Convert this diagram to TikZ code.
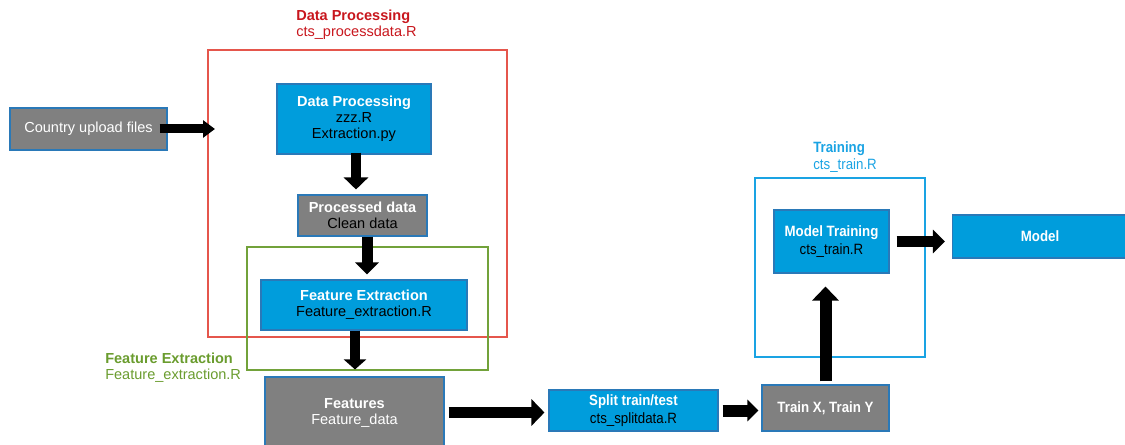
\documentclass[tikz,border=0pt]{standalone}
\usepackage{fontspec}
\setmainfont{Liberation Sans}
\newfontfamily\narrowfont[FakeStretch=0.89]{Liberation Sans}
\usetikzlibrary{arrows.meta}
\definecolor{boxblue}{HTML}{009DDC}
\definecolor{boxgray}{HTML}{808080}
\definecolor{edgeblue}{HTML}{2A79B8}
\definecolor{redframe}{HTML}{E5564C}
\definecolor{redtext}{HTML}{C8161D}
\definecolor{greenframe}{HTML}{72A23A}
\definecolor{greentext}{HTML}{6A9C2E}
\definecolor{trainblue}{HTML}{1AA3E3}
\tikzset{
  base/.style={draw=edgeblue, line width=0.8pt, align=center, inner sep=0pt,
    font=\fontsize{10.9}{12}\selectfont},
  bluebox/.style={base, fill=boxblue},
  graybox/.style={base, fill=boxgray},
  narrow/.style={font=\narrowfont\fontsize{11.2}{13}\selectfont},
  frame/.style={line width=1.1pt},
  barrow/.style n args={3}{line width=#1, -{Triangle[width=#2,length=#3]}},
  lbl/.style={anchor=west, align=left, inner sep=0pt, font=\fontsize{10.9}{12}\selectfont},
}
\newcommand{\ttl}[1]{\textcolor{white}{\bfseries #1}}
\begin{document}
\begin{tikzpicture}[x=0.75pt,y=-0.75pt]
\useasboundingbox (0,0) rectangle (1125,445);
% frames
\draw[frame, draw=redframe] (208,50) rectangle (507,337);
\draw[frame, draw=greenframe] (247,247) rectangle (488,370);
\draw[frame, draw=trainblue] (755,178) rectangle (925,357);
% frame labels
\node[lbl, text=redtext] (redlbl) at (296,25) {\textbf{Data Processing}\\cts\_processdata.R};
\node[lbl, text=greentext] (greenlbl) at (105,368) {\textbf{Feature Extraction}\\Feature\_extraction.R};
\node[lbl, narrow, text=trainblue] (trainlbl) at (813,157) {\textbf{Training}\\cts\_train.R};
% nodes
\node[graybox, minimum width=117.75pt, minimum height=31.5pt] (country) at (88.5,129)
  {\textcolor{white}{Country upload files}};
\coordinate (redin) at (215,129);
\node[bluebox, minimum width=115.5pt, minimum height=52.5pt] (dp) at (354,119)
  {\ttl{Data Processing}\\zzz.R\\Extraction.py};
\node[graybox, minimum width=96.75pt, minimum height=30.75pt] (proc) at (362.5,215.5)
  {\ttl{Processed data}\\Clean data};
\node[bluebox, minimum width=154.5pt, minimum height=37.5pt] (fe) at (364,305)
  {\ttl{Feature Extraction}\\Feature\_extraction.R};
\node[graybox, minimum width=134.25pt, minimum height=53.25pt] (feat) at (354.5,412.5)
  {\ttl{Features}\\\textcolor{white}{Feature\_data}};
\node[bluebox, narrow, minimum width=126.75pt, minimum height=30.75pt] (split) at (633.5,410.5)
  {\ttl{Split train/test}\\cts\_splitdata.R};
\node[graybox, narrow, minimum width=95.25pt, minimum height=34.5pt] (trainxy) at (825.5,408)
  {\ttl{Train X, Train Y}};
\node[bluebox, narrow, minimum width=86.25pt, minimum height=47.25pt] (mt) at (831.5,241.5)
  {\ttl{Model Training}\\cts\_train.R};
\node[bluebox, narrow, minimum width=131.25pt, minimum height=32.25pt] (model) at (1040,236.5)
  {\ttl{Model}};
% arrows
\draw[barrow={6.75pt}{12.75pt}{9pt}] ([xshift=-6pt]country.east) -- (redin);
\draw[barrow={7.5pt}{18pt}{9pt}, shorten >=3.75pt]
  ([xshift=1.5pt,yshift=1.5pt]dp.south) -- ([xshift=1.5pt]dp.south |- proc.north);
\draw[barrow={8.25pt}{17.25pt}{9pt}, shorten >=3.75pt]
  ([xshift=3.4pt]proc.south) -- ([xshift=3.4pt]proc.south |- fe.north);
\draw[barrow={7.5pt}{16.5pt}{7.5pt}, shorten >=5.25pt]
  ([xshift=-6.75pt]fe.south) -- ([xshift=-6.75pt]fe.south |- feat.north);
\draw[barrow={8.6pt}{19.5pt}{9.75pt}, shorten >=3pt]
  ([xshift=3pt]feat.east) -- (feat.east -| split.west);
\draw[barrow={9pt}{15.75pt}{8.25pt}, shorten >=2.25pt]
  ([xshift=3pt]split.east) -- (split.east -| trainxy.west);
\draw[barrow={9pt}{19.5pt}{10.5pt}, shorten >=9.75pt]
  ([yshift=2.25pt]trainxy.north) -- (trainxy.north |- mt.south);
\draw[barrow={8pt}{17.25pt}{9pt}, shorten >=5.25pt]
  ([xshift=5.25pt]mt.east) -- (mt.east -| model.west);
\end{tikzpicture}
\end{document}
